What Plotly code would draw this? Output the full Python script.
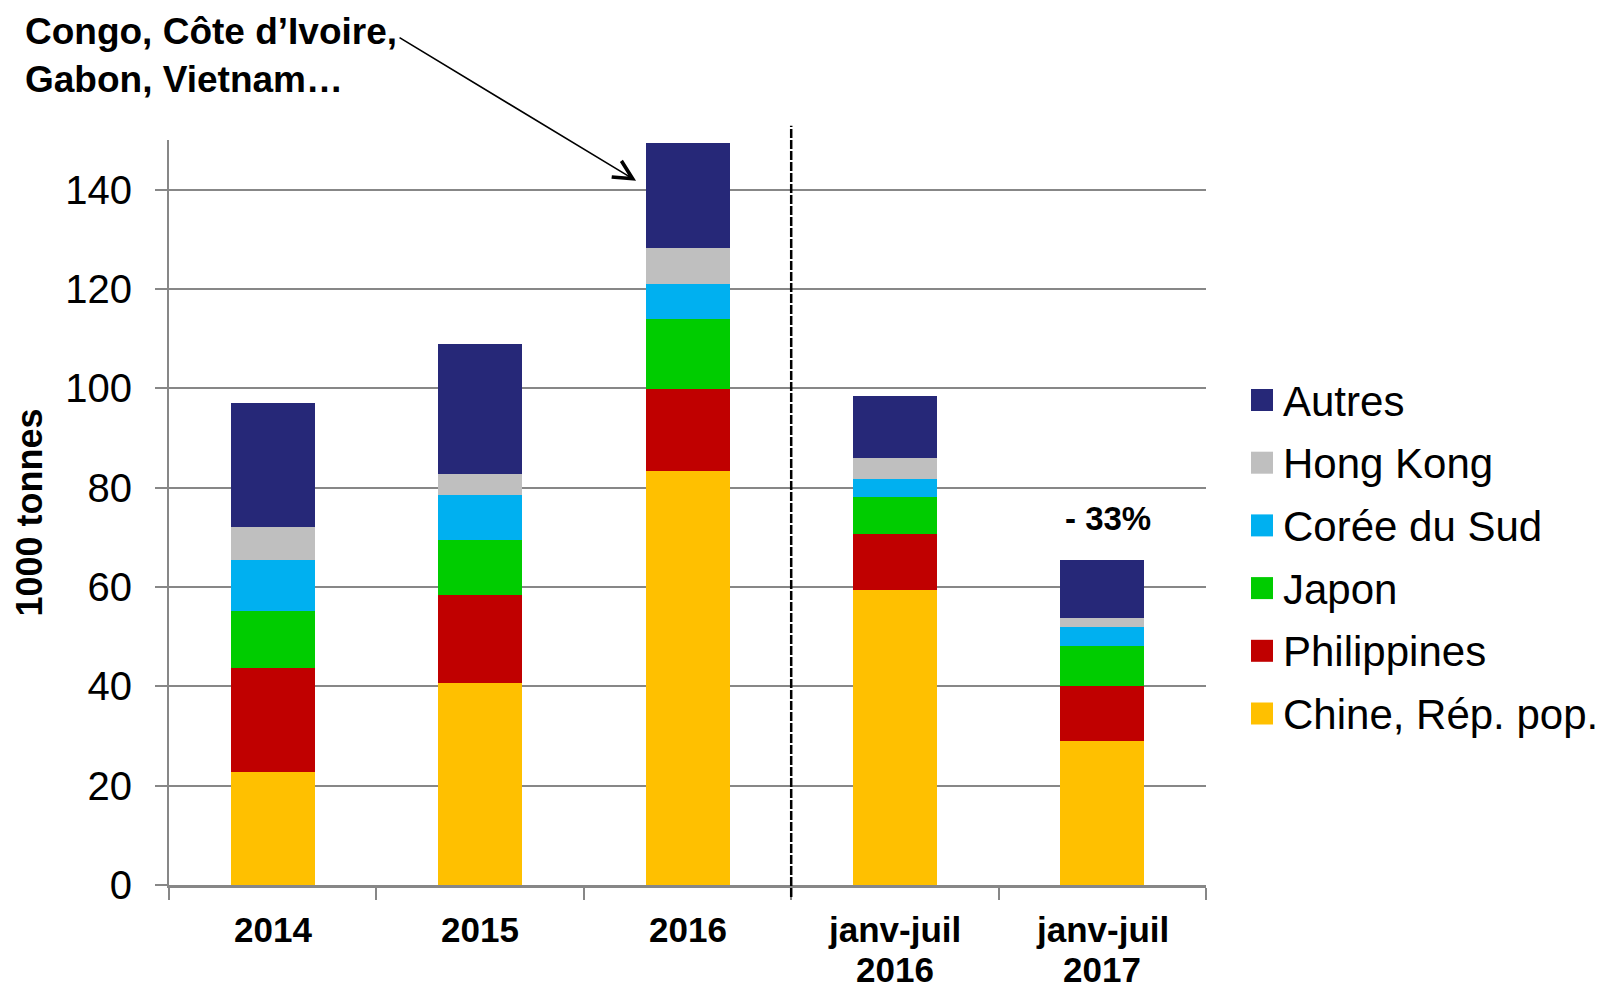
import plotly.graph_objects as go

# ---------------- data ----------------
categories = ["2014", "2015", "2016", "janv-juil 2016", "janv-juil 2017"]
label_line1 = ["2014", "2015", "2016", "janv-juil", "janv-juil"]
label_line2 = ["", "", "", "2016", "2017"]

series_names = ["Chine, Rép. pop.", "Philippines", "Japon", "Corée du Sud", "Hong Kong", "Autres"]
chine = [22.7, 40.7, 83.4, 59.4, 28.9]
philippines = [20.9, 17.6, 16.5, 11.2, 11.2]
japon = [11.6, 11.2, 14.1, 7.5, 8.0]
coree = [10.3, 9.1, 7.1, 3.6, 3.8]
hong_kong = [6.5, 4.2, 7.2, 4.3, 1.8]
autres = [25.1, 26.2, 21.1, 12.4, 11.7]
series_values = [chine, philippines, japon, coree, hong_kong, autres]
series_colors = ["#FFC000", "#C00000", "#00CC00", "#00B0F0", "#BFBFBF", "#262878"]

y_ticks = [0, 20, 40, 60, 80, 100, 120, 140]
note_text = "Congo, Côte d’Ivoire,<br>Gabon, Vietnam…"
change_text = "- 33%"

FONT = "Arial, 'Liberation Sans', sans-serif"
GRID = "#878787"

W, H = 1603, 989
ML, MR, MT, MB = 169, 397, 140, 104
PW, PH = W - ML - MR, H - MT - MB


def px_x(px):
    return (px - ML) / PW


def px_y(py):
    return (H - MB - py) / PH


fig = go.Figure()
for name, vals, col in zip(series_names, series_values, series_colors):
    fig.add_trace(go.Bar(
        x=categories, y=vals, name=name, marker=dict(color=col, line=dict(width=0)),
        width=0.405, showlegend=False, hoverinfo="y+name"))

fig.update_layout(
    barmode="stack",
    width=W, height=H,
    margin=dict(l=ML, r=MR, t=MT, b=MB, autoexpand=False),
    paper_bgcolor="white", plot_bgcolor="white",
    font=dict(family=FONT, color="black"),
    showlegend=False,
)

fig.update_xaxes(
    type="category", categoryorder="array", categoryarray=categories,
    range=[-0.5, 4.5], showgrid=False, showline=True, linecolor=GRID, linewidth=2.5,
    ticks="outside", tickson="boundaries", ticklen=12, tickwidth=2, tickcolor=GRID,
    showticklabels=False, zeroline=False, fixedrange=True)

fig.update_yaxes(
    range=[0, 150], tickvals=y_ticks, showgrid=True, gridcolor=GRID, gridwidth=2,
    showline=True, linecolor=GRID, linewidth=2, ticks="outside", ticklen=12,
    tickwidth=2, tickcolor=GRID, zeroline=False,
    tickfont=dict(size=40, family=FONT, color="black"), ticklabelstandoff=15,
    title=dict(text="<b>1000 tonnes</b>", font=dict(size=36, family=FONT, color="black"),
               standoff=12),
    fixedrange=True)

# legend (drawn manually: large square swatches), top entry = Autres
for k, (name, col) in enumerate(zip(series_names[::-1], series_colors[::-1])):
    cy = 400 + k * 62.7
    fig.add_shape(type="rect", xref="paper", yref="paper",
                  x0=px_x(1251), x1=px_x(1273), y0=px_y(cy + 11), y1=px_y(cy - 11),
                  fillcolor=col, line=dict(width=0))
    fig.add_annotation(xref="paper", yref="paper", x=px_x(1281), y=px_y(cy + 1),
                       xanchor="left", yanchor="middle", text=name, showarrow=False,
                       font=dict(size=42, family=FONT, color="black"))

# x category labels (two-row, tight line spacing)
for i, (l1, l2) in enumerate(zip(label_line1, label_line2)):
    fig.add_annotation(x=i, xref="x", y=0, yref="paper", text=f"<b>{l1}</b>",
                       showarrow=False, yanchor="middle", yshift=-44,
                       font=dict(size=35, family=FONT, color="black"))
    if l2:
        fig.add_annotation(x=i, xref="x", y=0, yref="paper", text=f"<b>{l2}</b>",
                           showarrow=False, yanchor="middle", yshift=-84,
                           font=dict(size=35, family=FONT, color="black"))

# dashed separator between annual and partial-year data
fig.add_shape(type="line", xref="paper", yref="paper", x0=0.6, x1=0.6,
              y0=-0.016, y1=1.019, line=dict(color="black", width=2.5, dash="9px,2px"))

# note + arrow
fig.add_annotation(xref="paper", yref="paper", x=px_x(23), y=px_y(55), xanchor="left",
                   yanchor="middle", align="left", text=f"<b>{note_text}</b>",
                   showarrow=False, font=dict(size=37, family=FONT, color="black"))
fig.add_annotation(x=1.752, y=141.8, xref="x", yref="y", text="", showarrow=True,
                   ax=-238, ay=-144, arrowhead=5, arrowsize=2.3, arrowwidth=1.6,
                   arrowcolor="black", standoff=0)

# change label
fig.add_annotation(x=4, y=73.7, xref="x", yref="y", text=f"<b>{change_text}</b>",
                   showarrow=False, xshift=6, font=dict(size=33, family=FONT, color="black"))

fig.write_html("out.html", config={"displayModeBar": False},
               post_script="document.body.style.margin='0';")
